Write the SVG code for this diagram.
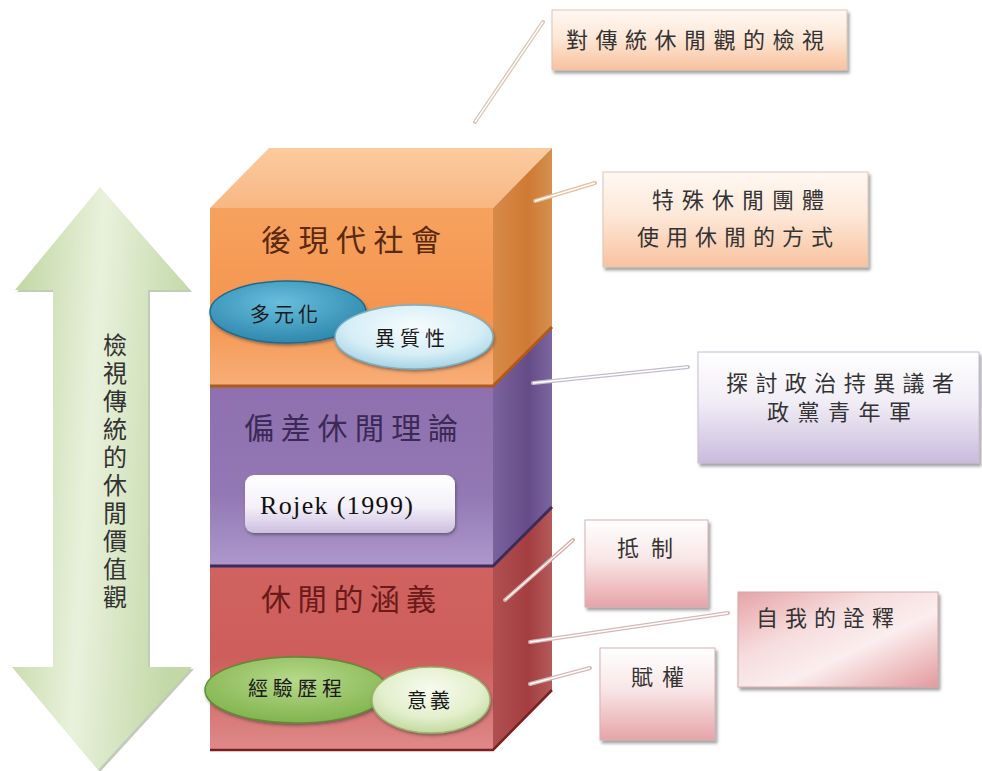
<svg xmlns="http://www.w3.org/2000/svg" width="982" height="771" viewBox="0 0 982 771">
<defs>
<style>
.cjk{font-family:"Noto Sans CJK TC","Noto Sans CJK SC",sans-serif;}
.title{font-size:30px;}
.lbl{font-size:22px;fill:#333;}
.ell{font-size:20px;fill:#1a1a1a;}
.conn{stroke-width:4;fill:none;stroke-linecap:round;}
.connin{stroke:#fff;stroke-width:1.4;fill:none;}
</style>
<filter id="sh" x="-10%" y="-10%" width="125%" height="130%"><feDropShadow dx="2" dy="3" stdDeviation="1.5" flood-color="#555" flood-opacity="0.55"/></filter>
<filter id="sh2" x="-10%" y="-10%" width="125%" height="130%"><feDropShadow dx="1" dy="2" stdDeviation="1.5" flood-color="#333" flood-opacity="0.5"/></filter>
<linearGradient id="arrowG" x1="0" y1="0" x2="1" y2="0.2"><stop offset="0" stop-color="#bcd49c"/><stop offset="0.5" stop-color="#e9f1dc"/><stop offset="1" stop-color="#c2d8a6"/></linearGradient>
<linearGradient id="oTop" x1="0" y1="0" x2="0" y2="1"><stop offset="0" stop-color="#fbcb9f"/><stop offset="1" stop-color="#f8b782"/></linearGradient>
<linearGradient id="oFront" x1="0" y1="0" x2="0" y2="1"><stop offset="0" stop-color="#f6a25e"/><stop offset="0.6" stop-color="#f49550"/><stop offset="1" stop-color="#f7ae78"/></linearGradient>
<linearGradient id="oSide" x1="0" y1="0" x2="1" y2="0"><stop offset="0" stop-color="#d88a48"/><stop offset="0.6" stop-color="#cf7a34"/><stop offset="1" stop-color="#d5904f"/></linearGradient>
<linearGradient id="pFront" x1="0" y1="0" x2="0" y2="1"><stop offset="0" stop-color="#8e70ae"/><stop offset="0.6" stop-color="#9278b4"/><stop offset="1" stop-color="#ad98cb"/></linearGradient>
<linearGradient id="pSide" x1="0" y1="0" x2="1" y2="0"><stop offset="0" stop-color="#7a629c"/><stop offset="0.6" stop-color="#654c88"/><stop offset="1" stop-color="#7b66a0"/></linearGradient>
<linearGradient id="rFront" x1="0" y1="0" x2="0" y2="1"><stop offset="0" stop-color="#d0625f"/><stop offset="0.5" stop-color="#cd5e5b"/><stop offset="1" stop-color="#de8a89"/></linearGradient>
<linearGradient id="rSide" x1="0" y1="0" x2="1" y2="0"><stop offset="0" stop-color="#b05050"/><stop offset="0.6" stop-color="#a43e40"/><stop offset="1" stop-color="#b45a5a"/></linearGradient>
<radialGradient id="teal" cx="0.45" cy="0.35" r="0.7"><stop offset="0" stop-color="#68bedc"/><stop offset="1" stop-color="#2a84aa"/></radialGradient>
<radialGradient id="cyan" cx="0.5" cy="0.35" r="0.7"><stop offset="0" stop-color="#f6fcfe"/><stop offset="0.6" stop-color="#d6eef6"/><stop offset="1" stop-color="#9ccfe2"/></radialGradient>
<radialGradient id="green" cx="0.5" cy="0.35" r="0.7"><stop offset="0" stop-color="#b6d98a"/><stop offset="1" stop-color="#7eb14a"/></radialGradient>
<radialGradient id="lgreen" cx="0.5" cy="0.35" r="0.7"><stop offset="0" stop-color="#f8fbf0"/><stop offset="0.6" stop-color="#e2efcc"/><stop offset="1" stop-color="#bcd596"/></radialGradient>
<linearGradient id="rojekG" x1="0" y1="0" x2="0" y2="1"><stop offset="0" stop-color="#ffffff"/><stop offset="0.55" stop-color="#f3f0f8"/><stop offset="1" stop-color="#cdbfe0"/></linearGradient>
<linearGradient id="boxO" x1="0" y1="0" x2="0" y2="1"><stop offset="0" stop-color="#fff8f2"/><stop offset="0.45" stop-color="#fde8d8"/><stop offset="1" stop-color="#f8c29e"/></linearGradient>
<linearGradient id="boxP" x1="0" y1="0" x2="0" y2="1"><stop offset="0" stop-color="#ffffff"/><stop offset="0.45" stop-color="#f1edf6"/><stop offset="1" stop-color="#c9bbdc"/></linearGradient>
<linearGradient id="boxR" x1="0" y1="0" x2="0" y2="1"><stop offset="0" stop-color="#ffffff"/><stop offset="0.45" stop-color="#f9e6e7"/><stop offset="1" stop-color="#e6a4a7"/></linearGradient>
<linearGradient id="boxR2" x1="0" y1="0" x2="1" y2="1"><stop offset="0" stop-color="#e6a3a6"/><stop offset="0.35" stop-color="#f6dcdd"/><stop offset="0.6" stop-color="#fbeeee"/><stop offset="1" stop-color="#e39a9e"/></linearGradient>
</defs>
<rect width="982" height="771" fill="#ffffff"/>

<g id="arrow">
<polygon points="100,189 192,292 150,292 150,669 194,669 100,772 14,669 55,669 55,292 17,292" fill="#9aa88a" opacity="0.6"/>
<polygon points="100,187 190,290 148,290 148,667 192,667 98,770 12,667 53,667 53,290 15,290" fill="url(#arrowG)"/>
<text class="cjk" font-size="24" fill="#333" x="115" y="333" style="writing-mode:vertical-rl" letter-spacing="4">檢視傳統的休閒價值觀</text>
</g>

<g id="layer-red">
<rect x="210" y="566" width="283" height="184" fill="url(#rFront)"/>
<polygon points="493,566 552,507 552,690 493,750" fill="url(#rSide)"/>
<path d="M210,750 L493,750 L552,690" stroke="#7a2020" stroke-width="2.5" fill="none"/>
<text class="cjk title" x="261" y="610" textLength="175" fill="#6a1a18">休閒的涵義</text>
</g>

<g id="layer-purple">
<rect x="210" y="386" width="283" height="180" fill="url(#pFront)"/>
<polygon points="493,386 552,327 552,507 493,566" fill="url(#pSide)"/>
<path d="M210,566 L493,566 L552,507" stroke="#3c2a5c" stroke-width="3" fill="none"/>
<text class="cjk title" x="244" y="439" textLength="214" fill="#3a2a55">偏差休閒理論</text>
</g>

<g id="layer-orange">
<polygon points="210,208 269,148 552,148 493,208" fill="url(#oTop)"/>
<rect x="210" y="208" width="283" height="178" fill="url(#oFront)"/>
<polygon points="493,208 552,148 552,327 493,386" fill="url(#oSide)"/>
<path d="M210,386 L493,386 L552,327" stroke="#b05a18" stroke-width="3" fill="none"/>
<text class="cjk title" x="261" y="251" textLength="180" fill="#5a2a10">後現代社會</text>
</g>

<g id="rojek">
<rect x="245" y="475" width="210" height="58" rx="9" fill="url(#rojekG)" filter="url(#sh2)"/>
<text x="260" y="514" font-family="Liberation Serif, serif" font-size="26" fill="#111" textLength="153">Rojek (1999)</text>
</g>

<g id="ell-duoyuan">
<ellipse cx="288" cy="312" rx="78" ry="31" fill="url(#teal)" stroke="#1e6a8c" stroke-width="1.5" filter="url(#sh2)"/>
<text class="cjk ell" x="250" y="322" textLength="68">多元化</text>
</g>
<g id="ell-yizhi">
<ellipse cx="414" cy="337" rx="79" ry="32" fill="url(#cyan)" stroke="#79b2c8" stroke-width="1.5" filter="url(#sh2)"/>
<text class="cjk ell" x="375" y="346" textLength="70">異質性</text>
</g>
<g id="ell-jingyan">
<ellipse cx="296" cy="690" rx="91" ry="33" fill="url(#green)" stroke="#5f8c32" stroke-width="1.5" filter="url(#sh2)"/>
<text class="cjk ell" x="248" y="696" textLength="94">經驗歷程</text>
</g>
<g id="ell-yiyi">
<ellipse cx="431" cy="700" rx="59" ry="33" fill="url(#lgreen)" stroke="#9cb46c" stroke-width="1.5" filter="url(#sh2)"/>
<text class="cjk ell" x="407" y="708" textLength="43">意義</text>
</g>

<g id="connectors">
<line class="conn" x1="475" y1="122" x2="543" y2="22" stroke="#d8c4b4"/>
<line class="connin" x1="475" y1="122" x2="543" y2="22"/>
<line class="conn" x1="535" y1="201" x2="595" y2="183" stroke="#e8bf9a"/>
<line class="connin" x1="535" y1="201" x2="595" y2="183"/>
<line class="conn" x1="533" y1="383" x2="688" y2="367" stroke="#c4bccc"/>
<line class="connin" x1="533" y1="383" x2="688" y2="367"/>
<line class="conn" x1="505" y1="600" x2="573" y2="540" stroke="#dcaaa8"/>
<line class="connin" x1="505" y1="600" x2="573" y2="540"/>
<line class="conn" x1="530" y1="642" x2="728" y2="613" stroke="#d6b8b8"/>
<line class="connin" x1="530" y1="642" x2="728" y2="613"/>
<line class="conn" x1="530" y1="684" x2="590" y2="668" stroke="#d6b8b8"/>
<line class="connin" x1="530" y1="684" x2="590" y2="668"/>
</g>

<g id="box-jianshi">
<rect x="552" y="10" width="295" height="60" fill="url(#boxO)" stroke="#dcc6b6" stroke-width="1" filter="url(#sh)"/>
<text class="cjk lbl" x="566" y="48" textLength="258">對傳統休閒觀的檢視</text>
</g>
<g id="box-teshu">
<rect x="603" y="172" width="265" height="95" fill="url(#boxO)" stroke="#dcc6b6" stroke-width="1" filter="url(#sh)"/>
<text class="cjk lbl" x="652" y="208" textLength="172">特殊休閒團體</text>
<text class="cjk lbl" x="637" y="245" textLength="196">使用休閒的方式</text>
</g>
<g id="box-zhengzhi">
<rect x="698" y="352" width="281" height="111" fill="url(#boxP)" stroke="#c8bcd4" stroke-width="1" filter="url(#sh)"/>
<text class="cjk lbl" x="726" y="391" textLength="228">探討政治持異議者</text>
<text class="cjk lbl" x="767" y="420" textLength="144">政黨青年軍</text>
</g>
<g id="box-dizhi">
<rect x="585" y="520" width="123" height="87" fill="url(#boxR)" stroke="#d6b2b2" stroke-width="1" filter="url(#sh)"/>
<text class="cjk lbl" x="617" y="556" textLength="56">抵制</text>
</g>
<g id="box-quanshi">
<rect x="738" y="592" width="200" height="95" fill="url(#boxR2)" stroke="#d6a8a8" stroke-width="1" filter="url(#sh)"/>
<text class="cjk lbl" x="756" y="626" textLength="138">自我的詮釋</text>
</g>
<g id="box-fuquan">
<rect x="600" y="648" width="115" height="92" fill="url(#boxR)" stroke="#d6b2b2" stroke-width="1" filter="url(#sh)"/>
<text class="cjk lbl" x="631" y="685" textLength="53">賦權</text>
</g>
</svg>
